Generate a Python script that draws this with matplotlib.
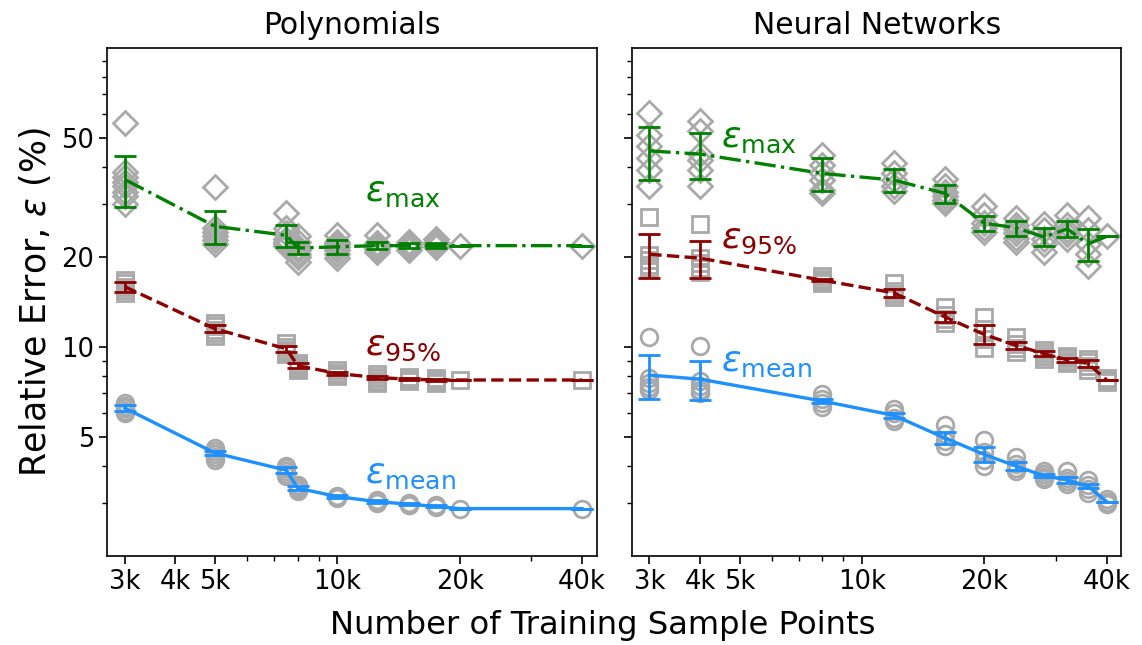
import matplotlib
matplotlib.use("Agg")
import matplotlib.pyplot as plt
from matplotlib.ticker import NullFormatter

# ---- Polynomials ----
poly_x = [3000, 5000, 7500, 8000, 10000, 12500, 15000, 17500, 20000, 40000]

poly_max_runs = [
    [56.0, 38.5, 37.0, 35.5, 34.5, 33.0, 32.0, 30.0],
    [34.2, 25.0, 24.2, 23.5, 22.8, 22.0],
    [28.0, 25.0, 24.0, 23.0, 22.5, 22.0, 21.8],
    [23.5, 22.5, 21.5, 21.0, 20.5, 20.0, 19.2],
    [23.6, 22.5, 22.0, 21.5, 21.0, 20.5, 19.8],
    [23.6, 22.2, 21.8, 21.5, 21.2, 20.8],
    [22.5, 22.0, 21.8, 21.5, 21.0],
    [23.0, 22.4, 22.0, 21.6],
    [21.8],
    [21.8],
]
poly_p95_runs = [
    [16.7, 16.3, 15.9, 15.5, 15.1],
    [12.0, 11.7, 11.4, 11.1, 10.9],
    [10.3, 10.0, 9.8, 9.6, 9.5],
    [8.8, 8.7, 8.6, 8.5, 8.4],
    [8.35, 8.2, 8.1, 8.0],
    [8.1, 7.95, 7.85, 7.7, 7.6],
    [7.95, 7.85, 7.75, 7.7],
    [7.85, 7.75, 7.65, 7.55],
    [7.75],
    [7.75],
]
poly_mean_runs = [
    [6.5, 6.35, 6.25, 6.1, 6.0],
    [4.6, 4.5, 4.4, 4.3, 4.2],
    [4.0, 3.95, 3.85, 3.75, 3.7],
    [3.45, 3.4, 3.35, 3.3],
    [3.18, 3.16, 3.13],
    [3.07, 3.04, 3.01],
    [3.0, 2.97, 2.95],
    [2.95, 2.93, 2.91],
    [2.88],
    [2.88],
]
poly_max_avg = [36.3, 25.3, 23.6, 21.4, 21.6, 21.8, 21.8, 21.8, 21.8, 21.8]
poly_max_err = [7.0, 3.2, 2.0, 1.0, 1.2, 0.6, 0.4, 0.4, 0.0, 0.0]
poly_p95_avg = [15.9, 11.5, 9.85, 8.65, 8.15, 7.9, 7.8, 7.75, 7.75, 7.75]
poly_p95_err = [0.6, 0.3, 0.25, 0.15, 0.07, 0.1, 0.05, 0.05, 0.0, 0.0]
poly_mean_avg = [6.25, 4.42, 3.87, 3.37, 3.16, 3.04, 2.98, 2.93, 2.88, 2.88]
poly_mean_err = [0.15, 0.08, 0.09, 0.05, 0.03, 0.03, 0.02, 0.02, 0.0, 0.0]

# ---- Neural Networks ----
nn_x = [3000, 4000, 8000, 12000, 16000, 20000, 24000, 28000, 32000, 36000, 40000]

nn_max_runs = [
    [60.5, 51.1, 46.9, 42.8, 39.0, 34.5],
    [56.9, 52.7, 44.0, 42.2, 39.0, 34.5],
    [43.7, 40.5, 38.0, 36.0, 33.5, 32.6],
    [41.2, 38.0, 36.0, 34.5, 33.2],
    [36.3, 34.5, 33.0, 32.0, 31.0, 30.2],
    [29.5, 27.5, 26.0, 25.0, 24.3],
    [26.9, 25.5, 24.8, 24.0, 23.2, 22.4],
    [25.7, 24.5, 23.0, 22.0, 20.8],
    [27.7, 25.5, 24.5, 23.8, 22.9],
    [26.9, 24.5, 22.0, 20.5, 18.6],
    [23.4],
]
nn_p95_runs = [
    [27.2, 20.3, 19.5, 18.8, 18.3],
    [25.7, 19.8, 19.0, 18.4, 17.8],
    [17.2, 16.9, 16.6, 16.3],
    [16.3, 15.4, 15.0, 14.7],
    [13.6, 12.8, 12.4, 12.0],
    [12.6, 11.5, 10.6, 9.95],
    [10.75, 10.2, 9.9, 9.6],
    [9.8, 9.55, 9.35, 9.1],
    [9.35, 9.15, 8.95, 8.8],
    [9.1, 8.9, 8.6, 8.35],
    [7.9, 7.75, 7.65],
]
nn_mean_runs = [
    [10.8, 7.9, 7.6, 7.35, 7.15],
    [10.1, 7.7, 7.4, 7.2, 7.0],
    [6.95, 6.7, 6.5, 6.3],
    [6.2, 6.0, 5.8, 5.67],
    [5.5, 5.1, 4.85, 4.66],
    [4.9, 4.45, 4.2, 4.0],
    [4.3, 4.05, 3.95, 3.85],
    [3.86, 3.75, 3.68, 3.62],
    [3.86, 3.65, 3.55, 3.48],
    [3.6, 3.45, 3.35, 3.25],
    [3.1, 3.04, 2.99],
]
nn_max_avg = [45.2, 44.1, 38.0, 36.1, 32.6, 25.9, 25.0, 23.3, 24.8, 22.1, 23.4]
nn_max_err = [9.0, 7.6, 4.8, 3.2, 2.25, 1.55, 1.45, 1.6, 1.55, 2.75, 0.0]
nn_p95_avg = [20.4, 19.8, 16.7, 15.15, 12.6, 11.0, 10.1, 9.5, 9.05, 8.8, 7.75]
nn_p95_err = [3.45, 2.8, 0.15, 0.45, 0.5, 0.8, 0.28, 0.17, 0.15, 0.24, 0.0]
nn_mean_avg = [8.05, 7.8, 6.59, 5.9, 4.96, 4.37, 3.99, 3.71, 3.59, 3.42, 3.04]
nn_mean_err = [1.36, 1.17, 0.1, 0.13, 0.23, 0.26, 0.12, 0.05, 0.07, 0.05, 0.0]

xticks = [3000, 4000, 5000, 10000, 20000, 40000]
xticklabels = ["3k", "4k", "5k", "10k", "20k", "40k"]
xminor = [6000, 7000, 8000, 9000, 30000]
yticks = [5, 10, 20, 50]
yminor = [3, 4, 6, 7, 8, 9, 30, 40, 60, 70, 80, 90]

GRAY = "darkgray"
C_MAX = "green"
C_95 = "darkred"
C_MEAN = "dodgerblue"


def scatter_runs(ax, xs, runs, marker):
    for x, vals in zip(xs, runs):
        ax.plot([x] * len(vals), vals, linestyle="none", marker=marker,
                markersize=12, markerfacecolor="none", markeredgecolor=GRAY,
                markeredgewidth=2, zorder=2)


def draw_panel(ax, xs, runs, avgs, errs, title):
    markers = ["D", "s", "o"]
    colors = [C_MAX, C_95, C_MEAN]
    styles = ["-.", "--", "-"]
    for r, m in zip(runs, markers):
        scatter_runs(ax, xs, r, m)
    for a, e, c, ls in zip(avgs, errs, colors, styles):
        ax.errorbar(xs, a, yerr=e, color=c, linestyle=ls, linewidth=2.4,
                    elinewidth=2, capsize=8, capthick=2, zorder=3)
    ax.set_xscale("log")
    ax.set_yscale("log")
    ax.set_xlim(2720, 43500)
    ax.set_ylim(2, 100)
    ax.set_xticks(xticks)
    ax.set_xticklabels(xticklabels)
    ax.set_xticks(xminor, minor=True)
    ax.xaxis.set_minor_formatter(NullFormatter())
    ax.set_yticks(yticks)
    ax.set_yticklabels([str(t) for t in yticks])
    ax.set_yticks(yminor, minor=True)
    ax.yaxis.set_minor_formatter(NullFormatter())
    ax.tick_params(which="major", length=6, width=1.2, labelsize=18.5)
    ax.tick_params(which="minor", length=3.5, width=1.0)
    for s in ax.spines.values():
        s.set_linewidth(1.2)
    ax.set_title(title, fontsize=21.5, pad=10)


fig, (ax1, ax2) = plt.subplots(1, 2, figsize=(11.42, 6.45), dpi=100, sharey=True)
fig.subplots_adjust(left=0.094, right=0.982, top=0.926, bottom=0.138, wspace=0.072)

draw_panel(ax1, poly_x, [poly_max_runs, poly_p95_runs, poly_mean_runs],
           [poly_max_avg, poly_p95_avg, poly_mean_avg],
           [poly_max_err, poly_p95_err, poly_mean_err], "Polynomials")
draw_panel(ax2, nn_x, [nn_max_runs, nn_p95_runs, nn_mean_runs],
           [nn_max_avg, nn_p95_avg, nn_mean_avg],
           [nn_max_err, nn_p95_err, nn_mean_err], "Neural Networks")
ax2.tick_params(labelleft=False)

lab_kw = dict(fontsize=26, ha="left", va="center")
ax1.text(11700, 33.0, r"$\varepsilon_{\rm max}$", color=C_MAX, **lab_kw)
ax1.text(11700, 10.1, r"$\varepsilon_{95\%}$", color=C_95, **lab_kw)
ax1.text(11700, 3.75, r"$\varepsilon_{\rm mean}$", color=C_MEAN, **lab_kw)
ax2.text(4500, 49.9, r"$\varepsilon_{\rm max}$", color=C_MAX, **lab_kw)
ax2.text(4500, 23.0, r"$\varepsilon_{95\%}$", color=C_95, **lab_kw)
ax2.text(4500, 8.9, r"$\varepsilon_{\rm mean}$", color=C_MEAN, **lab_kw)

ax1.set_ylabel(r"Relative Error, $\varepsilon$ (%)", fontsize=25, labelpad=6)
fig.text(0.528, 0.031, "Number of Training Sample Points", fontsize=23.2,
         ha="center", va="center")

fig.savefig("out.png", dpi=100)
